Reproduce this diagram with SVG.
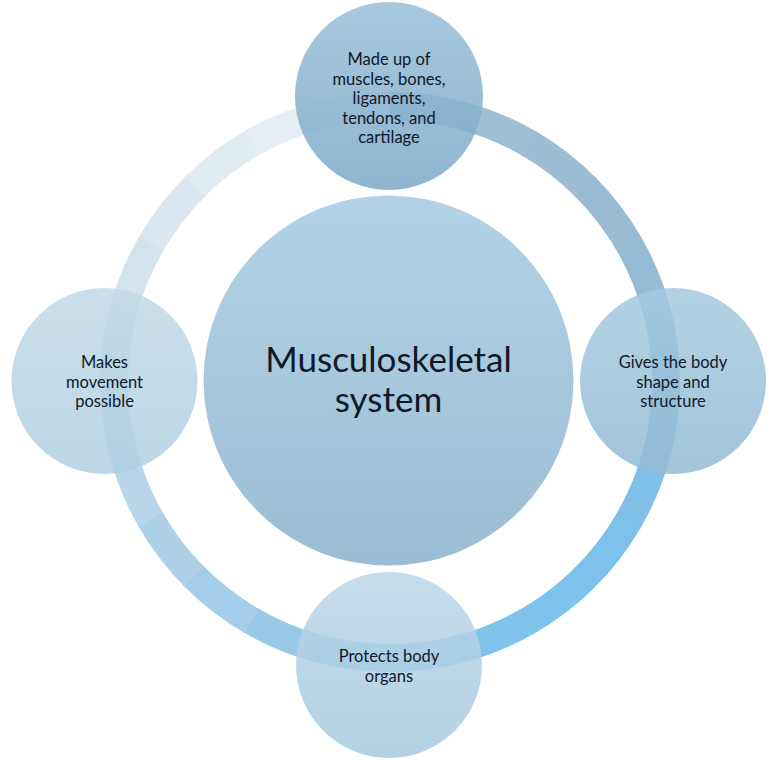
<svg xmlns="http://www.w3.org/2000/svg" width="770" height="760" viewBox="0 0 770 760">
<style>
.seg{fill:none;stroke-width:28;stroke-dasharray:74 2000}
.sat{fill-opacity:0.85}
.t{font-family:Lato,"Liberation Sans",sans-serif;font-size:16.5px;fill:#101828;text-anchor:middle}
.big{font-family:Lato,"Liberation Sans",sans-serif;font-size:35px;fill:#101828;text-anchor:middle}
</style>
<defs>
<linearGradient id="gC" x1="0" y1="0" x2="0" y2="1"><stop offset="0" stop-color="#b3d2e6"/><stop offset="1" stop-color="#9bbdd4"/></linearGradient>
<linearGradient id="gT" x1="0" y1="0" x2="0" y2="1"><stop offset="0" stop-color="#98bed8"/><stop offset="1" stop-color="#7ba8c6"/></linearGradient>
<linearGradient id="gR" x1="0" y1="0" x2="0" y2="1"><stop offset="0" stop-color="#a5c9e0"/><stop offset="1" stop-color="#93bbd3"/></linearGradient>
<linearGradient id="gB" x1="0" y1="0" x2="0" y2="1"><stop offset="0" stop-color="#bbd6e9"/><stop offset="1" stop-color="#a7c9e0"/></linearGradient>
<linearGradient id="gL" x1="0" y1="0" x2="0" y2="1"><stop offset="0" stop-color="#c1d9e7"/><stop offset="1" stop-color="#b0cfe3"/></linearGradient>
</defs>
<g id="connectors" transform="rotate(-90 390 382)">
<circle class="seg" cx="390" cy="382" r="276" stroke="#a2c0d5" stroke-dashoffset="0"/>
<circle class="seg" cx="390" cy="382" r="276" stroke="#9fbfd4" stroke-dashoffset="-72.26"/>
<circle class="seg" cx="390" cy="382" r="276" stroke="#9cbdd3" stroke-dashoffset="-144.51"/>
<circle class="seg" cx="390" cy="382" r="276" stroke="#99bcd3" stroke-dashoffset="-216.77"/>
<circle class="seg" cx="390" cy="382" r="276" stroke="#96bbd4" stroke-dashoffset="-289.03"/>
<circle class="seg" cx="390" cy="382" r="276" stroke="#8fbad6" stroke-dashoffset="-361.28"/>
<circle class="seg" cx="390" cy="382" r="276" stroke="#88bcdd" stroke-dashoffset="-433.54"/>
<circle class="seg" cx="390" cy="382" r="276" stroke="#80c0e8" stroke-dashoffset="-505.80"/>
<circle class="seg" cx="390" cy="382" r="276" stroke="#7ec2ec" stroke-dashoffset="-578.05"/>
<circle class="seg" cx="390" cy="382" r="276" stroke="#7ec3ec" stroke-dashoffset="-650.31"/>
<circle class="seg" cx="390" cy="382" r="276" stroke="#80c3eb" stroke-dashoffset="-722.57"/>
<circle class="seg" cx="390" cy="382" r="276" stroke="#86c5ea" stroke-dashoffset="-794.82"/>
<circle class="seg" cx="390" cy="382" r="276" stroke="#8fc7e9" stroke-dashoffset="-867.08"/>
<circle class="seg" cx="390" cy="382" r="276" stroke="#98cae8" stroke-dashoffset="-939.34"/>
<circle class="seg" cx="390" cy="382" r="276" stroke="#a3cde8" stroke-dashoffset="-1011.59"/>
<circle class="seg" cx="390" cy="382" r="276" stroke="#aed1e8" stroke-dashoffset="-1083.85"/>
<circle class="seg" cx="390" cy="382" r="276" stroke="#b8d5e9" stroke-dashoffset="-1156.11"/>
<circle class="seg" cx="390" cy="382" r="276" stroke="#c2daea" stroke-dashoffset="-1228.36"/>
<circle class="seg" cx="390" cy="382" r="276" stroke="#cbdfec" stroke-dashoffset="-1300.62"/>
<circle class="seg" cx="390" cy="382" r="276" stroke="#d3e3ee" stroke-dashoffset="-1372.88"/>
<circle class="seg" cx="390" cy="382" r="276" stroke="#dbe7f0" stroke-dashoffset="-1445.13"/>
<circle class="seg" cx="390" cy="382" r="276" stroke="#e1ebf2" stroke-dashoffset="-1517.39"/>
<circle class="seg" cx="390" cy="382" r="276" stroke="#e5eef4" stroke-dashoffset="-1589.65"/>
<circle class="seg" cx="390" cy="382" r="276" stroke="#e8eff5" stroke-dashoffset="-1661.90" style="stroke-dasharray:72.26 2000"/>
</g>
<g id="center">
<circle cx="388.5" cy="380.5" r="185" fill="url(#gC)"/>
<text class="big" x="388.5" y="372">Musculoskeletal</text>
<text class="big" x="388.5" y="412">system</text>
</g>
<g id="top">
<circle class="sat" cx="389" cy="96" r="94" fill="url(#gT)"/>
<text class="t" x="389" y="65">Made up of</text>
<text class="t" x="389" y="84.5">muscles, bones,</text>
<text class="t" x="389" y="104">ligaments,</text>
<text class="t" x="389" y="123.5">tendons, and</text>
<text class="t" x="389" y="143">cartilage</text>
</g>
<g id="right">
<circle class="sat" cx="673" cy="381" r="93" fill="url(#gR)"/>
<text class="t" x="673" y="368">Gives the body</text>
<text class="t" x="673" y="387.5">shape and</text>
<text class="t" x="673" y="407">structure</text>
</g>
<g id="bottom">
<circle class="sat" cx="389" cy="665" r="93" fill="url(#gB)"/>
<text class="t" x="389" y="662">Protects body</text>
<text class="t" x="389" y="681.5">organs</text>
</g>
<g id="left">
<circle class="sat" cx="104.5" cy="381" r="93" fill="url(#gL)"/>
<text class="t" x="104.5" y="368">Makes</text>
<text class="t" x="104.5" y="387.5">movement</text>
<text class="t" x="104.5" y="407">possible</text>
</g>
</svg>
